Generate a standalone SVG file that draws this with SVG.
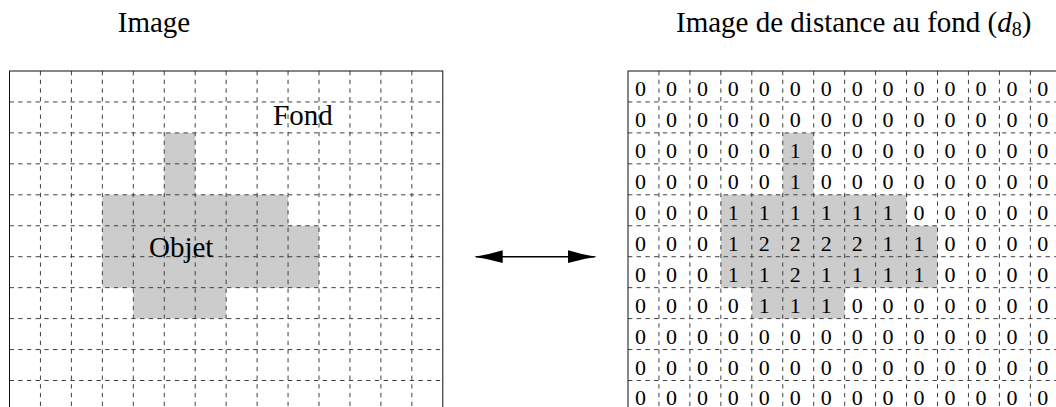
<svg xmlns="http://www.w3.org/2000/svg" xmlns:xlink="http://www.w3.org/1999/xlink" width="1056" height="407" viewBox="0 0 1056 407">
<style>
.t{font-family:"Liberation Serif","DejaVu Serif",serif;font-size:29px;fill:#000}
.d{font-family:"Liberation Serif","DejaVu Serif",serif;font-size:22px;fill:#000;text-anchor:middle}
.grid{fill:none;stroke:#404040;stroke-width:1;stroke-dasharray:4.35 4.35}
.border{fill:none;stroke:#111;stroke-width:1}
.obj{fill:#cccccc;stroke:none}
.arrow{fill:none;stroke:#000;stroke-width:1.4}
</style>
<defs>
<marker id="head" markerUnits="userSpaceOnUse" markerWidth="30" markerHeight="14" viewBox="0 0 30 14" refX="26.7" refY="7" orient="auto-start-reverse">
<path d="M0 0.6 Q14.5 5 28.7 7 Q14.5 9 0 13.4 Z" fill="#000"/>
</marker>
<path id="shape" class="obj" d="M154.75 61.9 H185.7 V123.8 H278.55 V154.75 H309.5 V216.65 H216.65 V247.6 H123.8 V216.65 H92.85 V123.8 H154.75 Z"/>
<path id="hlines" class="grid" d="M0 30.95 H433.3 M0 61.9 H433.3 M0 92.85 H433.3 M0 123.8 H433.3 M0 154.75 H433.3 M0 185.7 H433.3 M0 216.65 H433.3 M0 247.6 H433.3 M0 278.55 H433.3 M0 309.5 H433.3"/>
<path id="vlines" class="grid" d="M30.95 0 V340.45 M61.9 0 V340.45 M92.85 0 V340.45 M123.8 0 V340.45 M154.75 0 V340.45 M185.7 0 V340.45 M216.65 0 V340.45 M247.6 0 V340.45 M278.55 0 V340.45 M309.5 0 V340.45 M340.45 0 V340.45 M371.4 0 V340.45 M402.35 0 V340.45"/>
<rect id="frame" class="border" x="0" y="0" width="433.3" height="340.45"/>
</defs>

<g id="image">
<text class="t" x="154" y="32.3" text-anchor="middle">Image</text>
<g transform="translate(9.5 71)">
<use xlink:href="#shape" href="#shape"/>
<use xlink:href="#hlines" href="#hlines"/>
<use xlink:href="#vlines" href="#vlines"/>
<use xlink:href="#frame" href="#frame"/>
</g>
<text class="t" x="273" y="125">Fond</text>
<text class="t" x="149" y="257">Objet</text>
</g>

<g id="distance-image">
<text class="t" x="676" y="32.3">Image de distance au fond (<tspan font-style="italic">d</tspan><tspan font-size="20" dy="4">8</tspan><tspan dy="-4">)</tspan></text>
<g transform="translate(628 71)">
<use xlink:href="#shape" href="#shape"/>
<use xlink:href="#hlines" href="#hlines"/>
<use xlink:href="#vlines" href="#vlines"/>
<use xlink:href="#frame" href="#frame"/>
</g>
<g id="values">
<text class="d" x="640.5" y="95.95">0</text><text class="d" x="671.45" y="95.95">0</text><text class="d" x="702.4" y="95.95">0</text><text class="d" x="733.35" y="95.95">0</text><text class="d" x="764.3" y="95.95">0</text><text class="d" x="795.25" y="95.95">0</text><text class="d" x="826.2" y="95.95">0</text><text class="d" x="857.15" y="95.95">0</text><text class="d" x="888.1" y="95.95">0</text><text class="d" x="919.05" y="95.95">0</text><text class="d" x="950" y="95.95">0</text><text class="d" x="980.95" y="95.95">0</text><text class="d" x="1011.9" y="95.95">0</text><text class="d" x="1042.85" y="95.95">0</text>
<text class="d" x="640.5" y="126.9">0</text><text class="d" x="671.45" y="126.9">0</text><text class="d" x="702.4" y="126.9">0</text><text class="d" x="733.35" y="126.9">0</text><text class="d" x="764.3" y="126.9">0</text><text class="d" x="795.25" y="126.9">0</text><text class="d" x="826.2" y="126.9">0</text><text class="d" x="857.15" y="126.9">0</text><text class="d" x="888.1" y="126.9">0</text><text class="d" x="919.05" y="126.9">0</text><text class="d" x="950" y="126.9">0</text><text class="d" x="980.95" y="126.9">0</text><text class="d" x="1011.9" y="126.9">0</text><text class="d" x="1042.85" y="126.9">0</text>
<text class="d" x="640.5" y="157.85">0</text><text class="d" x="671.45" y="157.85">0</text><text class="d" x="702.4" y="157.85">0</text><text class="d" x="733.35" y="157.85">0</text><text class="d" x="764.3" y="157.85">0</text><text class="d" x="795.25" y="157.85">1</text><text class="d" x="826.2" y="157.85">0</text><text class="d" x="857.15" y="157.85">0</text><text class="d" x="888.1" y="157.85">0</text><text class="d" x="919.05" y="157.85">0</text><text class="d" x="950" y="157.85">0</text><text class="d" x="980.95" y="157.85">0</text><text class="d" x="1011.9" y="157.85">0</text><text class="d" x="1042.85" y="157.85">0</text>
<text class="d" x="640.5" y="188.8">0</text><text class="d" x="671.45" y="188.8">0</text><text class="d" x="702.4" y="188.8">0</text><text class="d" x="733.35" y="188.8">0</text><text class="d" x="764.3" y="188.8">0</text><text class="d" x="795.25" y="188.8">1</text><text class="d" x="826.2" y="188.8">0</text><text class="d" x="857.15" y="188.8">0</text><text class="d" x="888.1" y="188.8">0</text><text class="d" x="919.05" y="188.8">0</text><text class="d" x="950" y="188.8">0</text><text class="d" x="980.95" y="188.8">0</text><text class="d" x="1011.9" y="188.8">0</text><text class="d" x="1042.85" y="188.8">0</text>
<text class="d" x="640.5" y="219.75">0</text><text class="d" x="671.45" y="219.75">0</text><text class="d" x="702.4" y="219.75">0</text><text class="d" x="733.35" y="219.75">1</text><text class="d" x="764.3" y="219.75">1</text><text class="d" x="795.25" y="219.75">1</text><text class="d" x="826.2" y="219.75">1</text><text class="d" x="857.15" y="219.75">1</text><text class="d" x="888.1" y="219.75">1</text><text class="d" x="919.05" y="219.75">0</text><text class="d" x="950" y="219.75">0</text><text class="d" x="980.95" y="219.75">0</text><text class="d" x="1011.9" y="219.75">0</text><text class="d" x="1042.85" y="219.75">0</text>
<text class="d" x="640.5" y="250.7">0</text><text class="d" x="671.45" y="250.7">0</text><text class="d" x="702.4" y="250.7">0</text><text class="d" x="733.35" y="250.7">1</text><text class="d" x="764.3" y="250.7">2</text><text class="d" x="795.25" y="250.7">2</text><text class="d" x="826.2" y="250.7">2</text><text class="d" x="857.15" y="250.7">2</text><text class="d" x="888.1" y="250.7">1</text><text class="d" x="919.05" y="250.7">1</text><text class="d" x="950" y="250.7">0</text><text class="d" x="980.95" y="250.7">0</text><text class="d" x="1011.9" y="250.7">0</text><text class="d" x="1042.85" y="250.7">0</text>
<text class="d" x="640.5" y="281.65">0</text><text class="d" x="671.45" y="281.65">0</text><text class="d" x="702.4" y="281.65">0</text><text class="d" x="733.35" y="281.65">1</text><text class="d" x="764.3" y="281.65">1</text><text class="d" x="795.25" y="281.65">2</text><text class="d" x="826.2" y="281.65">1</text><text class="d" x="857.15" y="281.65">1</text><text class="d" x="888.1" y="281.65">1</text><text class="d" x="919.05" y="281.65">1</text><text class="d" x="950" y="281.65">0</text><text class="d" x="980.95" y="281.65">0</text><text class="d" x="1011.9" y="281.65">0</text><text class="d" x="1042.85" y="281.65">0</text>
<text class="d" x="640.5" y="312.6">0</text><text class="d" x="671.45" y="312.6">0</text><text class="d" x="702.4" y="312.6">0</text><text class="d" x="733.35" y="312.6">0</text><text class="d" x="764.3" y="312.6">1</text><text class="d" x="795.25" y="312.6">1</text><text class="d" x="826.2" y="312.6">1</text><text class="d" x="857.15" y="312.6">0</text><text class="d" x="888.1" y="312.6">0</text><text class="d" x="919.05" y="312.6">0</text><text class="d" x="950" y="312.6">0</text><text class="d" x="980.95" y="312.6">0</text><text class="d" x="1011.9" y="312.6">0</text><text class="d" x="1042.85" y="312.6">0</text>
<text class="d" x="640.5" y="343.55">0</text><text class="d" x="671.45" y="343.55">0</text><text class="d" x="702.4" y="343.55">0</text><text class="d" x="733.35" y="343.55">0</text><text class="d" x="764.3" y="343.55">0</text><text class="d" x="795.25" y="343.55">0</text><text class="d" x="826.2" y="343.55">0</text><text class="d" x="857.15" y="343.55">0</text><text class="d" x="888.1" y="343.55">0</text><text class="d" x="919.05" y="343.55">0</text><text class="d" x="950" y="343.55">0</text><text class="d" x="980.95" y="343.55">0</text><text class="d" x="1011.9" y="343.55">0</text><text class="d" x="1042.85" y="343.55">0</text>
<text class="d" x="640.5" y="374.5">0</text><text class="d" x="671.45" y="374.5">0</text><text class="d" x="702.4" y="374.5">0</text><text class="d" x="733.35" y="374.5">0</text><text class="d" x="764.3" y="374.5">0</text><text class="d" x="795.25" y="374.5">0</text><text class="d" x="826.2" y="374.5">0</text><text class="d" x="857.15" y="374.5">0</text><text class="d" x="888.1" y="374.5">0</text><text class="d" x="919.05" y="374.5">0</text><text class="d" x="950" y="374.5">0</text><text class="d" x="980.95" y="374.5">0</text><text class="d" x="1011.9" y="374.5">0</text><text class="d" x="1042.85" y="374.5">0</text>
<text class="d" x="640.5" y="405">0</text><text class="d" x="671.45" y="405">0</text><text class="d" x="702.4" y="405">0</text><text class="d" x="733.35" y="405">0</text><text class="d" x="764.3" y="405">0</text><text class="d" x="795.25" y="405">0</text><text class="d" x="826.2" y="405">0</text><text class="d" x="857.15" y="405">0</text><text class="d" x="888.1" y="405">0</text><text class="d" x="919.05" y="405">0</text><text class="d" x="950" y="405">0</text><text class="d" x="980.95" y="405">0</text><text class="d" x="1011.9" y="405">0</text><text class="d" x="1042.85" y="405">0</text>
</g>
</g>

<g id="connectors">
<path class="arrow" d="M476 256.7 H594.7" marker-start="url(#head)" marker-end="url(#head)"/>
</g>
</svg>
